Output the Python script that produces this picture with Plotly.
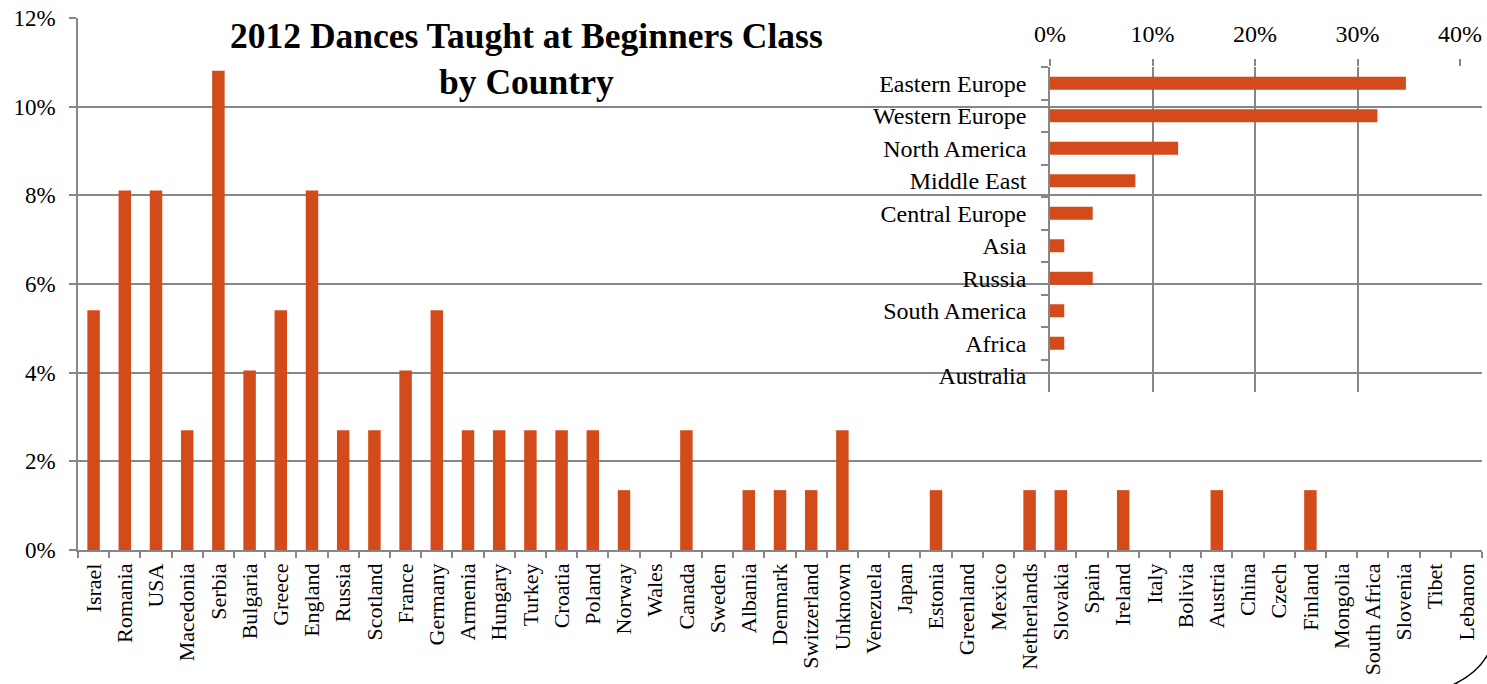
import plotly.graph_objects as go

countries = ["Israel", "Romania", "USA", "Macedonia", "Serbia", "Bulgaria", "Greece", "England",
             "Russia", "Scotland", "France", "Germany", "Armenia", "Hungary", "Turkey", "Croatia",
             "Poland", "Norway", "Wales", "Canada", "Sweden", "Albania", "Denmark", "Switzerland",
             "Unknown", "Venezuela", "Japan", "Estonia", "Greenland", "Mexico", "Netherlands",
             "Slovakia", "Spain", "Ireland", "Italy", "Bolivia", "Austria", "China", "Czech",
             "Finland", "Mongolia", "South Africa", "Slovenia", "Tibet", "Lebanon"]
country_pct = [5.41, 8.11, 8.11, 2.70, 10.81, 4.05, 5.41, 8.11,
               2.70, 2.70, 4.05, 5.41, 2.70, 2.70, 2.70, 2.70,
               2.70, 1.35, 0, 2.70, 0, 1.35, 1.35, 1.35,
               2.70, 0, 0, 1.35, 0, 0, 1.35,
               1.35, 0, 1.35, 0, 0, 1.35, 0, 0,
               1.35, 0, 0, 0, 0, 0]

regions = ["Eastern Europe", "Western Europe", "North America", "Middle East", "Central Europe",
           "Asia", "Russia", "South America", "Africa", "Australia"]
region_pct = [34.72, 31.94, 12.50, 8.33, 4.17, 1.39, 4.17, 1.39, 1.39, 0]

main_ticks = [0, 2, 4, 6, 8, 10, 12]
inset_ticks = [0, 10, 20, 30, 40]

BAR = "#D34A1B"
GRID = "#878787"
FONT = "Liberation Serif"

fig = go.Figure()
fig.add_trace(go.Bar(x=countries, y=country_pct, marker=dict(color=BAR, line=dict(width=0)),
                     width=0.4, xaxis="x", yaxis="y", showlegend=False))
fig.add_trace(go.Bar(y=regions, x=region_pct, orientation="h",
                     marker=dict(color=BAR, line=dict(width=0)),
                     width=0.4, xaxis="x2", yaxis="y2", showlegend=False))

fig.update_layout(
    width=1487, height=684,
    margin=dict(l=78, r=5, t=18, b=134, autoexpand=False),
    paper_bgcolor="white", plot_bgcolor="rgba(0,0,0,0)",
    font=dict(family=FONT, size=22, color="black"),
    xaxis=dict(domain=[0, 1], type="category", tickangle=-90, tickson="boundaries",
               ticks="outside", ticklen=6, tickwidth=1.5, tickcolor=GRID,
               showline=True, linecolor=GRID, linewidth=1.5, showgrid=False,
               tickfont=dict(family=FONT, size=22), ticklabelstandoff=3, automargin=False),
    yaxis=dict(domain=[0, 1], range=[0, 12], tickvals=main_ticks,
               ticktext=[f"{v}%" for v in main_ticks],
               showgrid=True, gridcolor=GRID, gridwidth=1.5,
               showline=True, linecolor=GRID, linewidth=1.5,
               ticks="outside", ticklen=7, tickwidth=1.5, tickcolor=GRID,
               zeroline=False, tickfont=dict(family=FONT, size=23), ticklabelstandoff=9,
               automargin=False),
    xaxis2=dict(domain=[(1050 - 78) / 1404, (1460 - 78) / 1404], anchor="y2", side="top",
                range=[0, 40], tickvals=inset_ticks, ticktext=[f"{v}%" for v in inset_ticks],
                showgrid=True, gridcolor=GRID, gridwidth=1.5, showline=False, zeroline=False,
                ticks="outside", ticklen=7, tickwidth=1.5, tickcolor=GRID,
                tickfont=dict(family=FONT, size=24), ticklabelstandoff=7, automargin=False),
    yaxis2=dict(domain=[(550 - 392) / 532, (550 - 67) / 532], anchor="x2", type="category",
                autorange="reversed", tickson="boundaries", ticks="outside", ticklen=7,
                tickwidth=1.5, tickcolor=GRID, showline=True, linecolor=GRID, linewidth=1.5,
                showgrid=False, tickfont=dict(family=FONT, size=24), ticklabelstandoff=17,
                automargin=False),
    bargap=0.6,
)

fig.add_annotation(text="<b>2012 Dances Taught at Beginners Class<br>by Country</b>",
                   xref="paper", yref="paper", x=(526 - 78) / 1404, y=(550 - 59) / 532,
                   xanchor="center", yanchor="middle", showarrow=False,
                   font=dict(family=FONT, size=35.5, color="black"))

fig.add_shape(type="path", xref="paper", yref="paper",
              path="M %.4f,%.4f Q %.4f,%.4f %.4f,%.4f" % (
                  (1490 - 78) / 1404, (550 - 650) / 532,
                  (1478 - 78) / 1404, (550 - 677) / 532,
                  (1440 - 78) / 1404, (550 - 690) / 532),
              line=dict(color="black", width=1.5))

fig.write_html("out.html", config={"displayModeBar": False},
               post_script="document.body.style.margin='0';")
